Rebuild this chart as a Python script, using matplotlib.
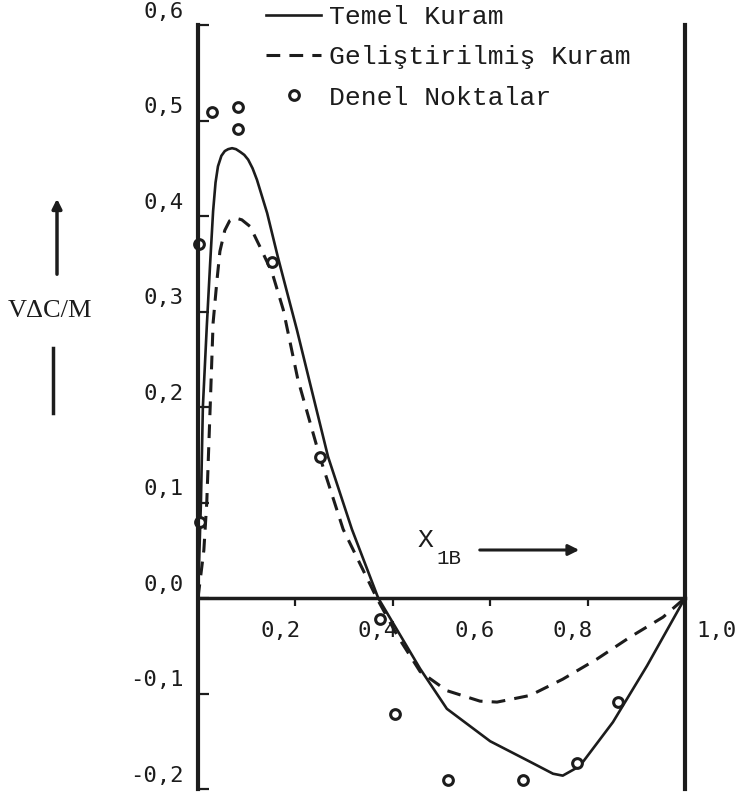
import numpy as np
import matplotlib
matplotlib.use("Agg")
import matplotlib.pyplot as plt
from matplotlib.patches import FancyArrowPatch
from matplotlib.lines import Line2D

# Temel Kuram (solid)
x_temel = [0.0, 0.006, 0.010, 0.018, 0.025, 0.031, 0.036, 0.041, 0.048, 0.055,
           0.062, 0.070, 0.078, 0.087, 0.095, 0.103, 0.112, 0.121, 0.142, 0.164,
           0.185, 0.203, 0.228, 0.267, 0.316, 0.370, 0.456, 0.511, 0.600, 0.680,
           0.729, 0.749, 0.784, 0.852, 0.922, 1.0]
y_temel = [0.0, 0.10, 0.20, 0.284, 0.351, 0.405, 0.435, 0.452, 0.463, 0.468,
           0.470, 0.471, 0.470, 0.467, 0.464, 0.459, 0.450, 0.438, 0.403, 0.357,
           0.316, 0.281, 0.229, 0.148, 0.072, 0.0, -0.074, -0.116, -0.150, -0.171,
           -0.184, -0.186, -0.176, -0.130, -0.071, 0.0]

# Gelistirilmis Kuram (dashed)
x_gelis = [0.0, 0.012, 0.018, 0.025, 0.031, 0.039, 0.045, 0.055, 0.065, 0.076,
           0.090, 0.107, 0.127, 0.152, 0.175, 0.205, 0.250, 0.298, 0.367, 0.410,
           0.456, 0.511, 0.579, 0.614, 0.682, 0.749, 0.819, 0.887, 0.955, 1.0]
y_gelis = [0.0, 0.05, 0.10, 0.20, 0.288, 0.333, 0.363, 0.385, 0.395, 0.398,
           0.396, 0.389, 0.368, 0.341, 0.302, 0.229, 0.148, 0.072, 0.0, -0.040,
           -0.077, -0.097, -0.108, -0.109, -0.102, -0.085, -0.064, -0.041, -0.020, 0.0]

# Denel Noktalar
x_denel = [0.002, 0.005, 0.029, 0.082, 0.082, 0.152, 0.250, 0.374, 0.405,
           0.513, 0.667, 0.778, 0.862]
y_denel = [0.371, 0.080, 0.509, 0.514, 0.491, 0.352, 0.148, -0.022, -0.121,
           -0.191, -0.191, -0.173, -0.109]

y_ticks = [0.6, 0.5, 0.4, 0.3, 0.2, 0.1, 0.0, -0.1, -0.2]
y_labels = ['0,6', '0,5', '0,4', '0,3', '0,2', '0,1', '0,0', '-0,1', '-0,2']
x_ticks = [0.2, 0.4, 0.6, 0.8]
x_labels = ['0,2', '0,4', '0,6', '0,8']

ink = '#1c1c1c'
mono = 'Liberation Mono'

fig = plt.figure(figsize=(7.44, 7.98), dpi=100)
W, H = 744, 798
ax = fig.add_axes([198 / W, 1 - 789 / H, (685 - 198) / W, (789 - 25) / H])

ax.plot(x_temel, y_temel, color=ink, lw=1.9, ls='-', label='Temel Kuram')
ax.plot(x_gelis, y_gelis, color=ink, lw=2.2, ls=(0, (4.5, 3)),
        label='Geliştirilmiş Kuram')
ax.plot(x_denel, y_denel, ls='none', marker='o', ms=7, mew=2.2,
        mec=ink, mfc='white', label='Denel Noktalar', clip_on=False)

ax.set_xlim(0, 1.0)
ax.set_ylim(-0.2, 0.6)

ax.spines['top'].set_visible(False)
ax.spines['left'].set_linewidth(3)
ax.spines['right'].set_linewidth(3)
ax.spines['bottom'].set_position(('data', 0))
ax.spines['bottom'].set_linewidth(2.5)
for s in ax.spines.values():
    s.set_color(ink)

ax.set_yticks(y_ticks)
ax.set_xticks(x_ticks)
ax.tick_params(axis='y', direction='in', length=8, width=1.6, color=ink,
               labelleft=False)
ax.tick_params(axis='x', direction='out', length=6, width=1.6, color=ink,
               labelbottom=False)

# tick labels sit a little above their ticks
for v, s in zip(y_ticks, y_labels):
    ax.annotate(s, xy=(0, v), xycoords=('axes fraction', 'data'),
                xytext=(-10, 9.5), textcoords='offset points',
                ha='right', va='center', fontsize=16, family='DejaVu Sans Mono',
                color=ink)
for v, s in zip(x_ticks, x_labels):
    ax.annotate(s, xy=(v, 0), xycoords='data', xytext=(-11, -24),
                textcoords='offset points', ha='center', va='center',
                fontsize=16, family='DejaVu Sans Mono', color=ink)
ax.annotate('1,0', xy=(1.0, 0), xycoords='data', xytext=(8, -24),
            textcoords='offset points', ha='left', va='center',
            fontsize=16, family='DejaVu Sans Mono', color=ink)

# axis name with arrows
fig.text(50 / W, 1 - 311 / H, 'VΔC/M', family='Liberation Serif', fontsize=19,
         ha='center', va='center', color=ink)
fig.add_artist(FancyArrowPatch((57 / W, 1 - 277 / H), (57 / W, 1 - 196 / H),
                               transform=fig.transFigure, arrowstyle='-|>',
                               mutation_scale=14, lw=2.5, color=ink))
fig.add_artist(Line2D([53 / W, 53 / W], [1 - 348 / H, 1 - 413 / H],
                      transform=fig.transFigure, lw=2.5, color=ink))

fig.text(425 / W, 1 - 540 / H, 'X', family=mono, fontsize=19,
         ha='center', va='center', color=ink)
fig.text(436 / W, 1 - 558 / H, '1B', family=mono, fontsize=15,
         ha='left', va='center', color=ink)
fig.add_artist(FancyArrowPatch((477 / W, 1 - 550 / H), (582 / W, 1 - 550 / H),
                               transform=fig.transFigure, arrowstyle='-|>',
                               mutation_scale=16, lw=2.2, color=ink))

leg = ax.legend(loc='upper left', bbox_to_anchor=(266 / W, 1 - 5 / H),
                bbox_transform=fig.transFigure, frameon=False, borderpad=0,
                borderaxespad=0, handlelength=2.1, handletextpad=0.3,
                labelspacing=0.62, numpoints=1,
                prop={'family': mono, 'size': 19})
for t in leg.get_texts():
    t.set_color(ink)

fig.savefig('out.png', dpi=100, facecolor='white')
